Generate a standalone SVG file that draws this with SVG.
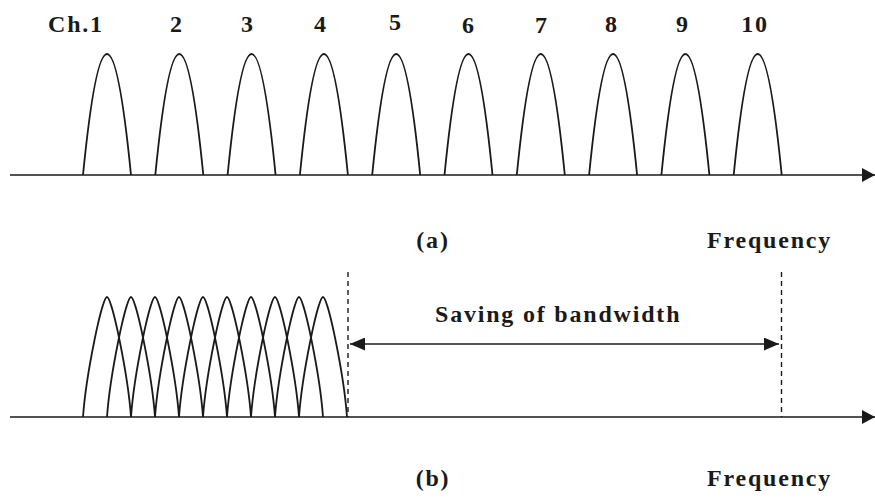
<svg xmlns="http://www.w3.org/2000/svg" width="875" height="500" viewBox="0 0 875 500">
<style>
.ax{stroke:#1a1a1a;stroke-width:1.6;fill:none}
.cv{stroke:#1a1a1a;stroke-width:1.8;fill:none}
.dash{stroke:#1a1a1a;stroke-width:1.4;stroke-dasharray:5 4;fill:none}
text{font-family:"Liberation Serif","Times New Roman",serif;font-weight:bold;font-size:24px;fill:#1a1a1a;letter-spacing:1.8px}
.m{text-anchor:middle}
</style>
<defs>
<marker id="ah" viewBox="0 0 13 14" refX="13" refY="7" markerWidth="13" markerHeight="14" markerUnits="userSpaceOnUse" orient="auto-start-reverse"><path d="M0,0 L13,7 L0,14 z" fill="#1a1a1a"/></marker>
<marker id="ah2" viewBox="0 0 15 13" refX="15" refY="6.5" markerWidth="15" markerHeight="13" markerUnits="userSpaceOnUse" orient="auto-start-reverse"><path d="M0,0 L15,6.5 L0,13 z" fill="#1a1a1a"/></marker>
</defs>
<g id="connectors">
<line class="ax" x1="10" y1="175" x2="875" y2="175" marker-end="url(#ah)"/>
<line class="ax" x1="10" y1="417" x2="875" y2="417" marker-end="url(#ah)"/>
<line class="dash" x1="348" y1="272" x2="348" y2="417"/>
<line class="dash" x1="781.5" y1="272" x2="781.5" y2="417"/>
<line class="ax" x1="350" y1="344" x2="779" y2="344" marker-start="url(#ah2)" marker-end="url(#ah2)"/>
</g>
<g id="panel-a">
<g id="ch1"><path class="cv" d="M83 175 Q107 -67 131 175"/><text x="48" y="32">Ch.1</text></g>
<g id="ch2"><path class="cv" d="M155.3 175 Q179.3 -67 203.3 175"/><text class="m" x="177" y="32">2</text></g>
<g id="ch3"><path class="cv" d="M227.6 175 Q251.6 -67 275.6 175"/><text class="m" x="248" y="32">3</text></g>
<g id="ch4"><path class="cv" d="M299.9 175 Q323.9 -67 347.9 175"/><text class="m" x="321" y="32">4</text></g>
<g id="ch5"><path class="cv" d="M372.2 175 Q396.2 -67 420.2 175"/><text class="m" x="396" y="30">5</text></g>
<g id="ch6"><path class="cv" d="M444.5 175 Q468.5 -67 492.5 175"/><text class="m" x="469" y="33">6</text></g>
<g id="ch7"><path class="cv" d="M516.8 175 Q540.8 -67 564.8 175"/><text class="m" x="542" y="33">7</text></g>
<g id="ch8"><path class="cv" d="M589.1 175 Q613.1 -67 637.1 175"/><text class="m" x="612" y="32">8</text></g>
<g id="ch9"><path class="cv" d="M661.4 175 Q685.4 -67 709.4 175"/><text class="m" x="683" y="32">9</text></g>
<g id="ch10"><path class="cv" d="M733.7 175 Q757.7 -67 781.7 175"/><text class="m" x="755" y="32">10</text></g>
<g id="label-a"><text class="m" x="433" y="248">(a)</text></g>
<g id="freq-a"><text x="707" y="248">Frequency</text></g>
</g>
<g id="panel-b">
<g id="dense-channels">
<path class="cv" d="M83 417 C86 375 102 297 107 297 C112 297 128 375 131 417"/>
<path class="cv" d="M107 417 C110 375 126 297 131 297 C136 297 152 375 155 417"/>
<path class="cv" d="M131 417 C134 375 150 297 155 297 C160 297 176 375 179 417"/>
<path class="cv" d="M155 417 C158 375 174 297 179 297 C184 297 200 375 203 417"/>
<path class="cv" d="M179 417 C182 375 198 297 203 297 C208 297 224 375 227 417"/>
<path class="cv" d="M203 417 C206 375 222 297 227 297 C232 297 248 375 251 417"/>
<path class="cv" d="M227 417 C230 375 246 297 251 297 C256 297 272 375 275 417"/>
<path class="cv" d="M251 417 C254 375 270 297 275 297 C280 297 296 375 299 417"/>
<path class="cv" d="M275 417 C278 375 294 297 299 297 C304 297 320 375 323 417"/>
<path class="cv" d="M299 417 C302 375 318 297 323 297 C328 297 344 375 347 417"/>
</g>
<g id="saving-label"><text x="435" y="322">Saving of bandwidth</text></g>
<g id="label-b"><text class="m" x="433" y="486">(b)</text></g>
<g id="freq-b"><text x="707" y="486">Frequency</text></g>
</g>
</svg>
